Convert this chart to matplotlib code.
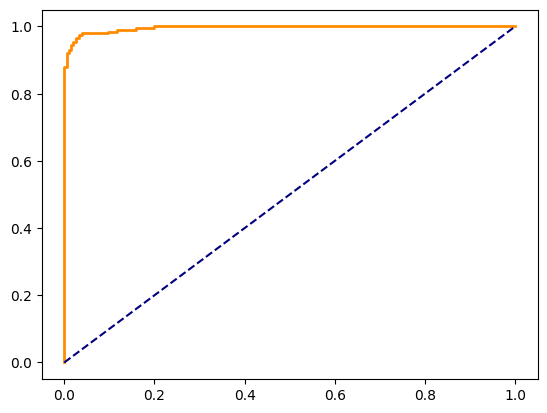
import matplotlib
matplotlib.use("Agg")
import matplotlib.pyplot as plt

# ROC curve points (false positive rate, true positive rate)
fpr = [0.0, 0.0, 0.0, 0.005, 0.005, 0.010, 0.010, 0.015, 0.015, 0.020, 0.020,
       0.025, 0.025, 0.032, 0.032, 0.040, 0.040, 0.098, 0.098, 0.118, 0.118,
       0.160, 0.160, 0.200, 0.200, 1.0]
tpr = [0.0, 0.88, 0.88, 0.88, 0.92, 0.92, 0.93, 0.93, 0.945, 0.945, 0.955,
       0.955, 0.965, 0.965, 0.975, 0.975, 0.98, 0.98, 0.985, 0.985, 0.99,
       0.99, 0.995, 0.995, 1.0, 1.0]

diag_x = [0, 1]
diag_y = [0, 1]

fig, ax = plt.subplots(figsize=(6.4, 4.8), dpi=100)
ax.plot(fpr, tpr, color='darkorange', lw=2)
ax.plot(diag_x, diag_y, color='navy', linestyle='--', lw=1.5)
fig.savefig("out.png", dpi=100, bbox_inches='tight')
